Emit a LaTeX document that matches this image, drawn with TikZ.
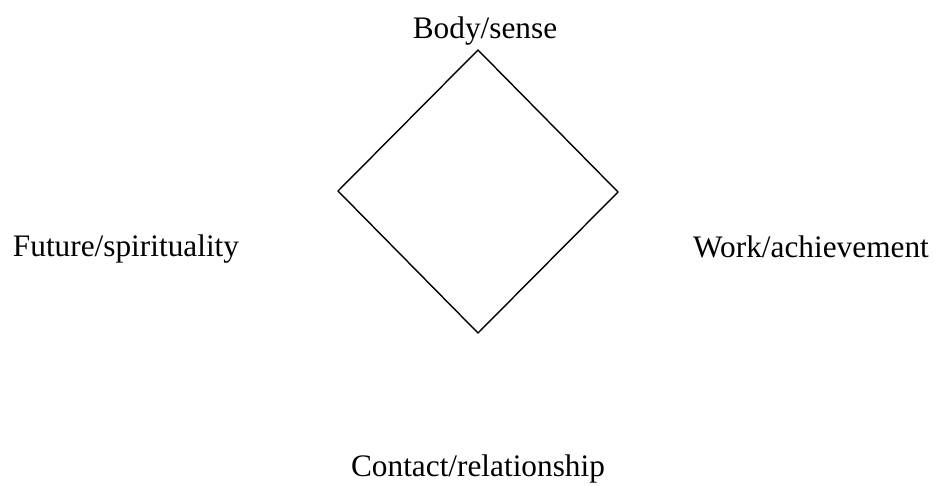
\documentclass[tikz,border=0pt]{standalone}
\usepackage{fontspec}
\setmainfont{Liberation Serif}
\begin{document}
\begin{tikzpicture}[x=1pt,y=-1pt,
  lbl/.style={font=\fontsize{31.3}{35}\selectfont, anchor=base, inner sep=0pt},
  edge/.style={line width=1.4pt, black, line join=miter}]
\useasboundingbox (0,0) rectangle (935,485);
\coordinate (t) at (478,50);
\coordinate (l) at (338,191);
\coordinate (b) at (478,333);
\coordinate (r) at (618,192);
\draw[edge] (t) -- (r) -- (b) -- (l) -- cycle;
\node[lbl] (body) at (485,38) {Body/sense};
\node[lbl] (future) at (126,256) {Future/spirituality};
\node[lbl] (work) at (811,257) {Work/achievement};
\node[lbl] (contact) at (478,476) {Contact/relationship};
\end{tikzpicture}
\end{document}
